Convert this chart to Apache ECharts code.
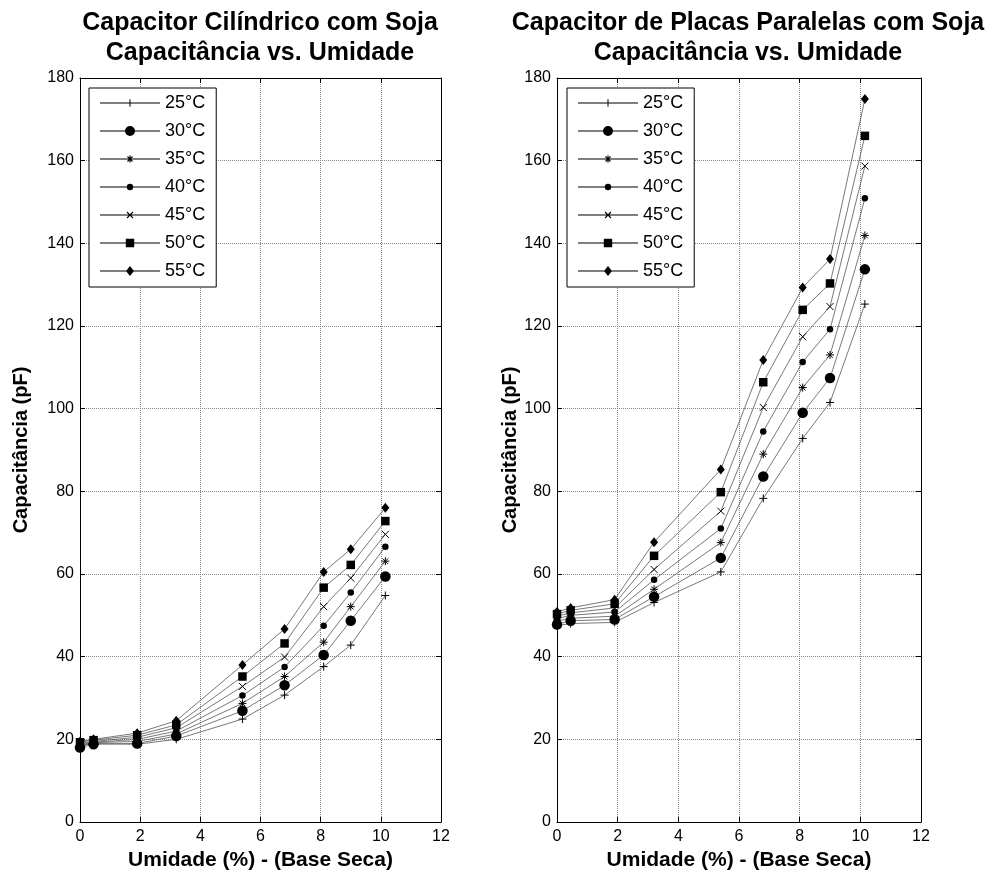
<!DOCTYPE html>
<html>
<head>
<meta charset="utf-8">
<script src="https://cdn.jsdelivr.net/npm/echarts@6/dist/echarts.min.js"></script>
<style>
html,body{margin:0;padding:0;background:#fff;}
#chart{width:987px;height:876px;}
</style>
</head>
<body>
<div id="chart"></div>
<script>
// ---- data ----
const humidity = [0, 0.45, 1.9, 3.2, 5.4, 6.8, 8.1, 9.0, 10.15];
const temperatures = ['25°C', '30°C', '35°C', '40°C', '45°C', '50°C', '55°C'];

// Capacitor cilíndrico (pF)
const cyl25 = [18.5, 19.0, 18.8, 20.0, 24.9, 30.7, 37.6, 42.8, 54.8];
const cyl30 = [18.0, 18.8, 19.0, 20.8, 26.9, 33.1, 40.4, 48.7, 59.4];
const cyl35 = [18.5, 19.2, 19.5, 21.3, 28.7, 35.2, 43.5, 52.1, 63.1];
const cyl40 = [18.7, 19.3, 20.0, 22.0, 30.6, 37.5, 47.5, 55.5, 66.6];
const cyl45 = [19.0, 19.5, 20.5, 22.8, 32.8, 39.9, 52.1, 59.0, 69.6];
const cyl50 = [19.3, 19.8, 21.0, 23.5, 35.2, 43.2, 56.7, 62.2, 72.8];
const cyl55 = [19.5, 20.0, 21.5, 24.5, 38.0, 46.7, 60.5, 66.0, 76.0];

// Capacitor de placas paralelas (pF)
const pla25 = [47.5, 48.0, 48.3, 53.1, 60.5, 78.3, 92.8, 101.5, 125.3];
const pla30 = [47.8, 48.7, 49.0, 54.5, 63.9, 83.6, 99.0, 107.4, 133.7];
const pla35 = [48.6, 49.3, 49.8, 56.3, 67.6, 89.0, 105.1, 113.0, 141.9];
const pla40 = [49.2, 50.0, 50.8, 58.6, 71.0, 94.5, 111.3, 119.2, 150.9];
const pla45 = [49.8, 50.6, 51.8, 61.1, 75.2, 100.3, 117.4, 124.7, 158.7];
const pla50 = [50.3, 51.2, 52.8, 64.4, 79.8, 106.4, 123.9, 130.3, 166.0];
const pla55 = [50.8, 51.8, 53.8, 67.7, 85.3, 111.8, 129.3, 136.2, 174.9];

const xTicks = [0, 2, 4, 6, 8, 10, 12];
const yTicks = [0, 20, 40, 60, 80, 100, 120, 140, 160, 180];

const titleLeft = 'Capacitor Cilíndrico com Soja\nCapacitância vs. Umidade';
const titleRight = 'Capacitor de Placas Paralelas com Soja\nCapacitância vs. Umidade';
const xName = 'Umidade (%) - (Base Seca)';
const yName = 'Capacitância (pF)';

// ---- styles ----
const FONT = '"Liberation Sans", Arial, sans-serif';
const cylSets = [cyl25, cyl30, cyl35, cyl40, cyl45, cyl50, cyl55];
const plaSets = [pla25, pla30, pla35, pla40, pla45, pla50, pla55];

const markers = [
  {symbol: 'path://M5,0L5,10M0,5L10,5', size: 8, stroke: true},
  {symbol: 'circle', size: 10.5, stroke: false},
  {symbol: 'path://M5,0L5,10M0,5L10,5M1.5,1.5L8.5,8.5M8.5,1.5L1.5,8.5', size: 8, stroke: true},
  {symbol: 'circle', size: 6.5, stroke: false},
  {symbol: 'path://M0,0L10,10M10,0L0,10', size: 7, stroke: true},
  {symbol: 'rect', size: 8.5, stroke: false},
  {symbol: 'diamond', size: [8, 10], stroke: false}
];

// legend icons drawn (filled) in a 60x14 box: thin line through the middle + marker
const BOX = 'M0,0ZM60,14Z';
const LINE = 'M0,6.6L60,6.6L60,7.4L0,7.4Z';
const PLUS = 'M29.5,3.3L30.5,3.3L30.5,10.7L29.5,10.7ZM26.3,6.5L33.7,6.5L33.7,7.5L26.3,7.5Z';
const CROSS = 'M26.6,4.4L27.4,3.6L33.4,9.6L32.6,10.4ZM32.6,3.6L33.4,4.4L27.4,10.4L26.6,9.6Z';
const CROSS_S = 'M27.1,4.9L27.9,4.1L32.9,9.1L32.1,9.9ZM32.1,4.1L32.9,4.9L27.9,9.9L27.1,9.1Z';
const legendIcons = [
  'path://' + BOX + LINE + PLUS,
  'path://' + BOX + LINE + 'M25,7A5,5,0,1,1,35,7A5,5,0,1,1,25,7Z',
  'path://' + BOX + LINE + PLUS + CROSS_S,
  'path://' + BOX + LINE + 'M26.8,7A3.2,3.2,0,1,1,33.2,7A3.2,3.2,0,1,1,26.8,7Z',
  'path://' + BOX + LINE + CROSS,
  'path://' + BOX + LINE + 'M25.8,2.8L34.2,2.8L34.2,11.2L25.8,11.2Z',
  'path://' + BOX + LINE + 'M30,2L34,7L30,12L26,7Z'
];

function makeSeries(sets, gridIdx) {
  return sets.map((vals, k) => {
    const m = markers[k];
    return {
      name: temperatures[k],
      type: 'line',
      xAxisIndex: gridIdx * 2,
      yAxisIndex: gridIdx * 2,
      data: humidity.map((h, i) => [h, vals[i]]),
      symbol: m.symbol,
      symbolSize: m.size,
      showSymbol: true,
      lineStyle: {color: '#555', width: 0.8},
      itemStyle: m.stroke
        ? {color: 'rgba(0,0,0,0)', borderColor: '#000', borderWidth: 1}
        : {color: '#000', borderWidth: 0},
      emphasis: {disabled: true},
      z: 3
    };
  });
}

const grids = [
  {left: 80, top: 78, width: 361, height: 744},
  {left: 557, top: 78, width: 364, height: 744}
];

const xAxes = [], yAxes = [];
[0, 1].forEach(g => {
  xAxes.push({
    type: 'value', gridIndex: g, min: xTicks[0], max: xTicks[xTicks.length - 1], interval: 2,
    name: xName, nameLocation: 'middle', nameGap: 26,
    nameTextStyle: {fontFamily: FONT, fontWeight: 'bold', fontSize: 21, color: '#000'},
    axisLine: {show: true, onZero: false, lineStyle: {color: '#000', width: 1}},
    axisTick: {show: true, inside: true, length: 5, lineStyle: {color: '#000'}},
    axisLabel: {fontFamily: FONT, fontSize: 16, color: '#000', margin: 7},
    splitLine: {show: true, lineStyle: {color: '#888', width: 1, type: [1, 1]}}
  });
  xAxes.push({
    type: 'value', gridIndex: g, position: 'top', min: xTicks[0], max: xTicks[xTicks.length - 1], interval: 2,
    axisLine: {show: true, onZero: false, lineStyle: {color: '#000', width: 1}},
    axisTick: {show: true, inside: true, length: 5, lineStyle: {color: '#000'}},
    axisLabel: {show: false}, splitLine: {show: false}
  });
  yAxes.push({
    type: 'value', gridIndex: g, min: yTicks[0], max: yTicks[yTicks.length - 1], interval: 20,
    name: yName, nameLocation: 'middle', nameGap: g === 0 ? 49 : 31,
    nameTextStyle: {fontFamily: FONT, fontWeight: 'bold', fontSize: 20, color: '#000'},
    axisLine: {show: true, onZero: false, lineStyle: {color: '#000', width: 1}},
    axisTick: {show: true, inside: true, length: 5, lineStyle: {color: '#000'}},
    axisLabel: {fontFamily: FONT, fontSize: 16, color: '#000', margin: 6},
    splitLine: {show: true, lineStyle: {color: '#888', width: 1, type: [1, 1]}}
  });
  yAxes.push({
    type: 'value', gridIndex: g, position: 'right', min: yTicks[0], max: yTicks[yTicks.length - 1], interval: 20,
    axisLine: {show: true, onZero: false, lineStyle: {color: '#000', width: 1}},
    axisTick: {show: true, inside: true, length: 5, lineStyle: {color: '#000'}},
    axisLabel: {show: false}, splitLine: {show: false}
  });
});

function legendAt(left) {
  return {
    data: temperatures.map((t, k) => ({
      name: t, icon: legendIcons[k],
      itemStyle: {color: '#000', borderWidth: 0}
    })),
    orient: 'vertical', left: left, top: 88,
    itemWidth: 60, itemHeight: 14, itemGap: 10,
    padding: [6, 11, 7, 11],
    borderColor: '#000', borderWidth: 1, backgroundColor: '#fff',
    selectedMode: false,
    textStyle: {fontFamily: FONT, fontSize: 18, color: '#000'}
  };
}

const option = {
  animation: false,
  backgroundColor: '#fff',
  grid: grids,
  xAxis: xAxes,
  yAxis: yAxes,
  legend: [legendAt(89), legendAt(567)],
  graphic: [
    {type: 'text', x: 260, y: 8, z: 10,
     style: {text: titleLeft, font: 'bold 25px ' + FONT, fill: '#000', textAlign: 'center', textVerticalAlign: 'top', lineHeight: 30}},
    {type: 'text', x: 748, y: 8, z: 10,
     style: {text: titleRight, font: 'bold 25px ' + FONT, fill: '#000', textAlign: 'center', textVerticalAlign: 'top', lineHeight: 30}}
  ],
  series: makeSeries(cylSets, 0).concat(makeSeries(plaSets, 1))
};

const chart = echarts.init(document.getElementById('chart'), null, {renderer: 'canvas'});
chart.setOption(option);
</script>
</body>
</html>
